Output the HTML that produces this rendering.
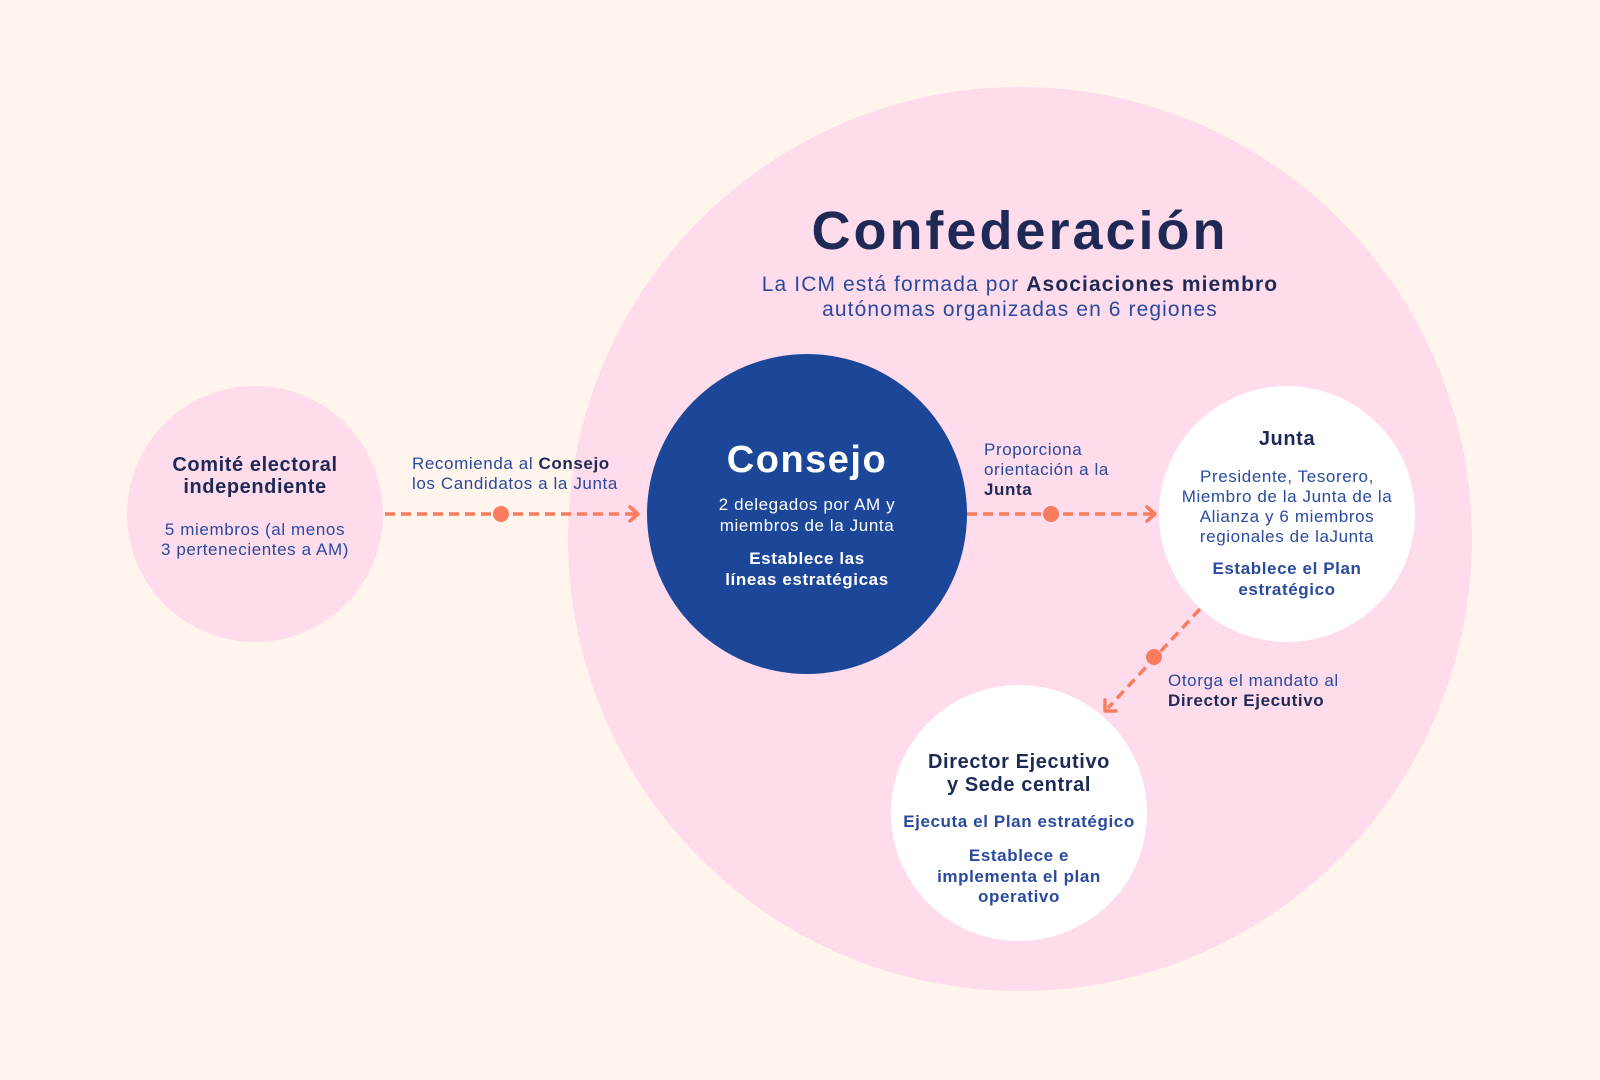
<!DOCTYPE html>
<html><head><meta charset="utf-8"><style>
html,body{margin:0;padding:0;background:#fff5ec;}
svg{display:block;font-family:"Liberation Sans",sans-serif;}
</style></head><body>
<svg width="1600" height="1080" viewBox="0 0 1600 1080" xmlns="http://www.w3.org/2000/svg">
<rect width="1600" height="1080" fill="#fff5ec"/>
<circle cx="1020" cy="539" r="452" fill="#ffdcec"/>
<circle cx="255" cy="514" r="128" fill="#ffdcec"/>
<circle cx="807" cy="514" r="160" fill="#1c4799"/>
<circle cx="1287" cy="514" r="128" fill="#ffffff"/>
<circle cx="1019" cy="813" r="128" fill="#ffffff"/>

<g stroke="#f97c5e" stroke-width="3.5" fill="none" stroke-dasharray="10 6">
<line x1="385" y1="514" x2="636" y2="514"/>
<line x1="967" y1="514" x2="1152" y2="514"/>
<line x1="1200" y1="609" x2="1108" y2="708"/>
</g>
<g stroke="#f97c5e" stroke-width="3.5" fill="none" stroke-linecap="round" stroke-linejoin="round">
<polyline points="630,507 638,514 630,521"/>
<polyline points="1147,507 1155,514 1147,521"/>
<polyline points="1105,700 1105,711 1116,711"/>
</g>
<g fill="#f97c5e">
<circle cx="501" cy="514" r="8"/>
<circle cx="1051" cy="514" r="8"/>
<circle cx="1154" cy="657" r="8"/>
</g>

<g text-anchor="middle" letter-spacing="0.6">
<text x="1020" y="249" font-size="54" font-weight="bold" fill="#1e2a55" letter-spacing="3">Confederación</text>
<text x="1020" y="291" font-size="21" fill="#2a4a9e" letter-spacing="1.1">La ICM está formada por <tspan font-weight="bold" fill="#1e2a55">Asociaciones miembro</tspan></text>
<text x="1020" y="316" font-size="21" fill="#2a4a9e" letter-spacing="1.1">autónomas organizadas en 6 regiones</text>

<text x="255" y="471" font-size="20" font-weight="bold" fill="#1e2a55">Comité electoral</text>
<text x="255" y="493" font-size="20" font-weight="bold" fill="#1e2a55">independiente</text>
<text x="255" y="535" font-size="17" fill="#2a4a9e">5 miembros (al menos</text>
<text x="255" y="555" font-size="17" fill="#2a4a9e">3 pertenecientes a AM)</text>

<text x="807" y="472" font-size="38" font-weight="bold" fill="#ffffff" letter-spacing="1.5">Consejo</text>
<text x="807" y="510" font-size="17" fill="#ffffff">2 delegados por AM y</text>
<text x="807" y="531" font-size="17" fill="#ffffff">miembros de la Junta</text>
<text x="807" y="564" font-size="17" font-weight="bold" fill="#ffffff">Establece las</text>
<text x="807" y="585" font-size="17" font-weight="bold" fill="#ffffff">líneas estratégicas</text>

<text x="1287" y="445" font-size="20" font-weight="bold" fill="#1e2a55">Junta</text>
<text x="1287" y="482" font-size="17" fill="#2a4a9e">Presidente, Tesorero,</text>
<text x="1287" y="502" font-size="17" fill="#2a4a9e">Miembro de la Junta de la</text>
<text x="1287" y="522" font-size="17" fill="#2a4a9e">Alianza y 6 miembros</text>
<text x="1287" y="542" font-size="17" fill="#2a4a9e">regionales de laJunta</text>
<text x="1287" y="574" font-size="17" font-weight="bold" fill="#2a4a9e">Establece el Plan</text>
<text x="1287" y="595" font-size="17" font-weight="bold" fill="#2a4a9e">estratégico</text>

<text x="1019" y="768" font-size="20" font-weight="bold" fill="#1e2a55">Director Ejecutivo</text>
<text x="1019" y="791" font-size="20" font-weight="bold" fill="#1e2a55">y Sede central</text>
<text x="1019" y="827" font-size="17" font-weight="bold" fill="#2a4a9e">Ejecuta el Plan estratégico</text>
<text x="1019" y="861" font-size="17" font-weight="bold" fill="#2a4a9e">Establece e</text>
<text x="1019" y="882" font-size="17" font-weight="bold" fill="#2a4a9e">implementa el plan</text>
<text x="1019" y="902" font-size="17" font-weight="bold" fill="#2a4a9e">operativo</text>
</g>

<g font-size="17" fill="#2a4a9e" letter-spacing="0.6">
<text x="412" y="469">Recomienda al <tspan font-weight="bold" fill="#1e2a55">Consejo</tspan></text>
<text x="412" y="489">los Candidatos a la Junta</text>
<text x="984" y="455">Proporciona</text>
<text x="984" y="475">orientación a la</text>
<text x="984" y="495" font-weight="bold" fill="#1e2a55">Junta</text>
<text x="1168" y="686">Otorga el mandato al</text>
<text x="1168" y="706" font-weight="bold" fill="#1e2a55">Director Ejecutivo</text>
</g>
</svg>
</body></html>
